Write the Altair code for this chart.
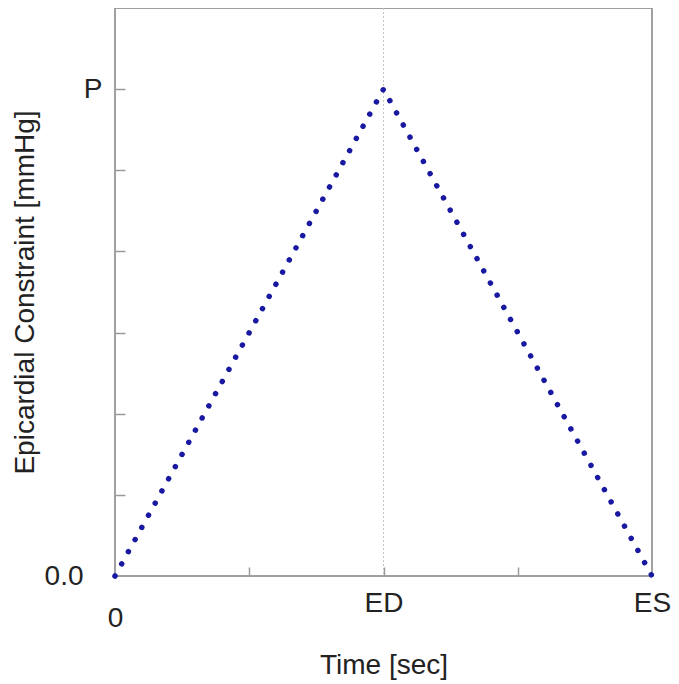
import math
import altair as alt
import pandas as pd

# ---- data ----
time_points = [0, 2, 4]            # 0, ED, ES
constraint_values = [0, 6, 0]      # 0, P, 0
ed_time = [2]
x_label_values = [0, 2, 4]
x_label_texts = ["0", "ED", "ES"]
y_label_values = [0, 6]
y_label_texts = ["0.0", "P"]
x_minor_ticks = [1, 2, 3]
y_minor_ticks = [1, 2, 3, 4, 5, 6]
x_domain = [0, 4]
y_domain = [0, 7]
dots_per_side = 40

# ---- layout ----
W, H = 537, 568
FONT = "Liberation Sans"
TXT = "#222222"

# dash period so dots land on the vertices
dx = W * (time_points[1] - time_points[0]) / (x_domain[1] - x_domain[0])
dy = H * (constraint_values[1] - constraint_values[0]) / (y_domain[1] - y_domain[0])
period = math.hypot(dx, dy) / dots_per_side * 0.998

df = pd.DataFrame({"t": time_points, "v": constraint_values})
df_ed = pd.DataFrame({"t": ed_time})

xs = alt.Scale(domain=x_domain, nice=False, zero=False)
ys = alt.Scale(domain=y_domain, nice=False, zero=False)

# label expressions
x_expr_parts = []
for v, t in zip(x_label_values, x_label_texts):
    lab = "['', '%s']" % t if v == 0 else "'%s'" % t
    x_expr_parts.append((v, lab))
x_expr = " : ".join("datum.value == %s ? %s" % (v, l) for v, l in x_expr_parts[:-1]) + " : " + x_expr_parts[-1][1]

y_expr = "datum.value == %s ? '%s' : '%s'" % (
    y_label_values[0], y_label_texts[0], y_label_texts[1])
y_pad_expr = "datum.value == %s ? 32 : 13" % y_label_values[0]

rule = alt.Chart(df_ed).mark_rule(color="#c4c4c4", strokeDash=[2, 2], strokeWidth=1).encode(
    x=alt.X("t:Q", scale=xs, axis=None)
)

line = alt.Chart(df).mark_line(
    color="#1818a0", strokeWidth=5.5, strokeCap="round",
    strokeDash=[0.01, period], clip=False
).encode(
    x=alt.X("t:Q", scale=xs, axis=alt.Axis(
        orient="bottom", values=x_label_values, labelExpr=x_expr,
        ticks=False, tickSize=0, domain=False, grid=False,
        labelFlush=False, labelOverlap=False,
        labelFont=FONT, labelFontSize=28, labelColor=TXT,
        labelPadding=13, labelLineHeight=15, labelBaseline="top",
        title="Time [sec]", titleFont=FONT, titleFontSize=28,
        titleFontWeight="normal", titleColor=TXT, titleY=75)),
    y=alt.Y("v:Q", scale=ys, axis=alt.Axis(
        orient="left", values=y_label_values, labelExpr=y_expr,
        ticks=False, tickSize=0, domain=False, grid=False,
        labelFlush=False, labelOverlap=False,
        labelFont=FONT, labelFontSize=28, labelColor=TXT,
        labelPadding=alt.ExprRef(y_pad_expr),
        title="Epicardial Constraint [mmHg]", titleFont=FONT, titleFontSize=28,
        titleFontWeight="normal", titleColor=TXT, titleX=-76)),
)

tick_layer = alt.Chart(df).mark_line(opacity=0).encode(
    x=alt.X("t:Q", scale=xs, axis=alt.Axis(
        orient="top", offset=-H, values=x_minor_ticks, labels=False,
        domain=False, grid=False, ticks=True, tickSize=9,
        tickColor="#9a9a9a", tickWidth=1.5, title="")),
    y=alt.Y("v:Q", scale=ys, axis=alt.Axis(
        orient="right", offset=-W, values=y_minor_ticks, labels=False,
        domain=False, grid=False, ticks=True, tickSize=10,
        tickColor="#9a9a9a", tickWidth=1.5, title="")),
)

chart = alt.layer(rule, line, tick_layer).resolve_axis(
    x="independent", y="independent"
).properties(
    width=W, height=H,
    autosize=alt.AutoSizeParams(type="none"),
    padding={"left": 107, "top": 0, "right": 19, "bottom": 108},
    background="white",
).configure_view(stroke="#a0a0a0", strokeWidth=2)

chart.save("out.html", embed_options={"renderer": "svg", "actions": False})
